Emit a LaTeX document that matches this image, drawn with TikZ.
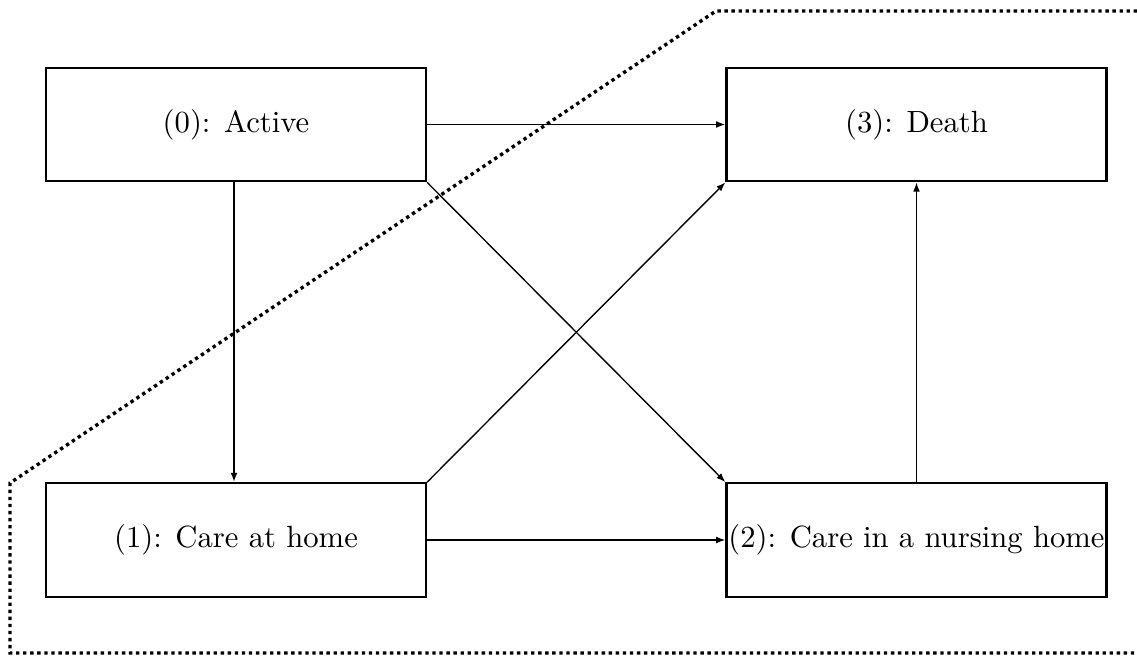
\documentclass[tikz,border=0pt]{standalone}
\usetikzlibrary{arrows.meta}
\begin{document}
\begin{tikzpicture}[x=0.326pt,y=-0.326pt,
  statebox/.style={draw,line width=0.7pt,minimum width=123.9pt,minimum height=37pt,inner sep=0pt},
  trans/.style={line width=0.45pt,-{Latex[length=3pt,width=2.2pt]}},
  border/.style={line width=1.1pt,dash pattern=on 1.1pt off 1.2pt}]
\useasboundingbox (0,0) rectangle (1137,656);
\node[statebox] (s0) at (236,124.5) {(0): Active};
\node[statebox] (s3) at (916.5,124.5) {(3): Death};
\node[statebox] (s1) at (236,540) {(1): Care at home};
\node[statebox] (s2) at (916.5,540) {(2): Care in a nursing home};
\coordinate (dtr) at (1137,11);
\coordinate (dtc) at (716,11);
\coordinate (dlc) at (10,483);
\coordinate (dbl) at (10,653);
\coordinate (dbr) at (1137,653);
\draw[border] (dtr) -- (dtc) -- (dlc) -- (dbl) -- (dbr);
\draw[trans] (s0.east) -- (s3.west);
\draw[trans,line width=0.6pt] ([xshift=-0.65pt]s0.south) -- ([xshift=-0.65pt]s1.north);
\draw[trans] (s0.south east) -- (s2.north west);
\draw[trans] (s1.north east) -- (s3.south west);
\draw[trans] (s1.east) -- (s2.west);
\draw[trans] (s2.north) -- (s3.south);
\end{tikzpicture}
\end{document}
